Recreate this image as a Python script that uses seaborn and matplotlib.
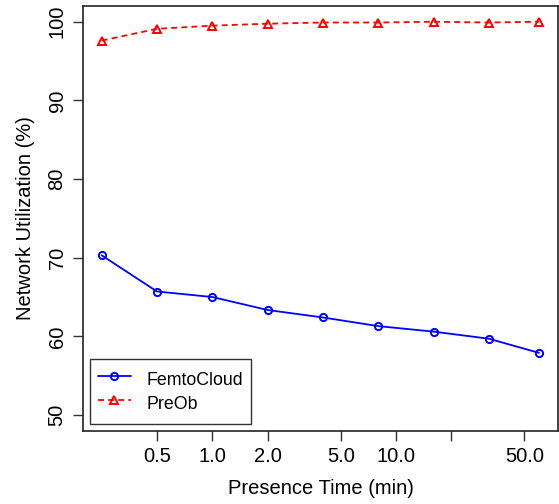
import matplotlib
matplotlib.use("Agg")
import matplotlib.pyplot as plt
import seaborn as sns
import pandas as pd
from matplotlib.lines import Line2D

presence_time = [0.25, 0.5, 1, 2, 4, 8, 16, 32, 60]
femtocloud = [70.3, 65.7, 65.0, 63.35, 62.4, 61.3, 60.6, 59.7, 57.9]
preob = [97.6, 99.1, 99.5, 99.75, 99.9, 99.9, 100.0, 99.9, 100.0]
series_names = ["FemtoCloud", "PreOb"]
xtick_values = [0.5, 1, 2, 5, 10, 20, 50]
xtick_labels = ["0.5", "1.0", "2.0", "5.0", "10.0", "", "50.0"]
ytick_values = [50, 60, 70, 80, 90, 100]

df = pd.DataFrame({
    "x": presence_time * 2,
    "y": femtocloud + preob,
    "series": [series_names[0]] * len(presence_time) + [series_names[1]] * len(presence_time),
})

sns.set_style("ticks")
plt.rcParams["font.family"] = ["Liberation Sans", "DejaVu Sans"]
plt.rcParams["text.color"] = "black"
plt.rcParams["axes.labelcolor"] = "black"
plt.rcParams["xtick.color"] = "black"
plt.rcParams["ytick.color"] = "black"

FS = 14.5
LFS = 12.8
MS = 5.2
MEW = 1.4
LW = 1.3
DASH = (3.3, 2.3)

fig = plt.figure(figsize=(5.59, 5.04), dpi=100)
ax = fig.add_axes([0.149, 0.1454, 0.8487, 0.8427])

sns.lineplot(data=df, x="x", y="y", hue="series", style="series",
             palette={"FemtoCloud": "#0000FF", "PreOb": "#FF0000"},
             markers={"FemtoCloud": "o", "PreOb": "^"},
             dashes={"FemtoCloud": "", "PreOb": DASH},
             linewidth=LW, markersize=MS, markerfacecolor="none",
             markeredgewidth=MEW, ax=ax, legend=False)
for line in ax.lines:
    line.set_markerfacecolor("none")
    line.set_markeredgecolor(line.get_color())

ax.set_xscale("log")
ax.set_xlim(0.1985, 75.9)
ax.set_ylim(48, 102)
ax.set_xticks(xtick_values)
ax.set_xticklabels(xtick_labels)
ax.xaxis.set_minor_locator(matplotlib.ticker.NullLocator())
ax.set_yticks(ytick_values)
ax.set_yticklabels([str(v) for v in ytick_values], rotation=90, va="center")
ax.tick_params(axis="both", direction="out", length=7, width=1, labelsize=FS,
               color="#333333", pad=5)
for s in ax.spines.values():
    s.set_visible(True)
    s.set_linewidth(1.2)
    s.set_color("#222222")
ax.set_xlabel("Presence Time (min)", fontsize=FS, labelpad=9)
ax.set_ylabel("Network Utilization (%)", fontsize=FS, labelpad=9)

handles = [
    Line2D([], [], color="#0000FF", marker="o", markerfacecolor="none", markersize=MS,
           markeredgewidth=MEW, linewidth=LW),
    Line2D([], [], color="#FF0000", marker="^", markerfacecolor="none", markersize=MS,
           markeredgewidth=MEW, linewidth=LW, dashes=DASH),
]
leg = ax.legend(handles, series_names, loc="lower left", bbox_to_anchor=(0.0141, 0.0158),
                frameon=True, fancybox=False, fontsize=LFS, borderpad=0.45,
                handlelength=1.85, handleheight=1.75, handletextpad=0.9,
                labelspacing=0.0, borderaxespad=0)
leg.get_frame().set_edgecolor("#333333")
leg.get_frame().set_linewidth(1.0)
leg.get_frame().set_alpha(1)

fig.savefig("out.png", dpi=100)
